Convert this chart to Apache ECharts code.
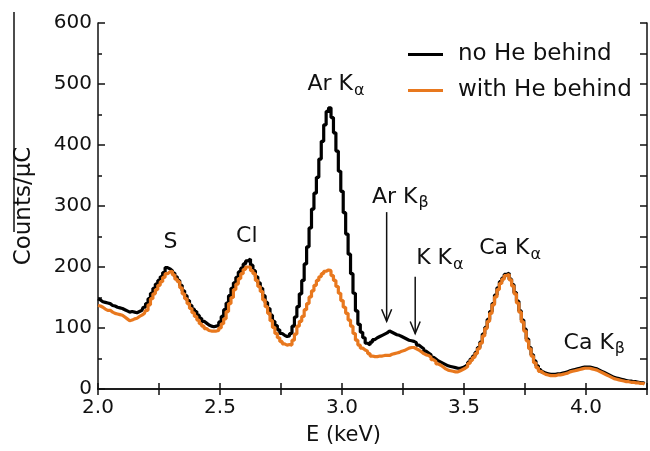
<!DOCTYPE html>
<html>
<head>
<meta charset="utf-8">
<script src="https://cdn.jsdelivr.net/npm/echarts@6/dist/echarts.min.js"></script>
<style>
  html, body { margin: 0; padding: 0; background: #fff; }
  #main { width: 650px; height: 451px; }
</style>
</head>
<body>
<div id="main"></div>
<script>
  // bin centres (keV)
  var energy = [
    2.00,2.01,2.02,2.03,2.04,2.05,2.06,2.07,2.08,2.09,
    2.10,2.11,2.12,2.13,2.14,2.15,2.16,2.17,2.18,2.19,
    2.20,2.21,2.22,2.23,2.24,2.25,2.26,2.27,2.28,2.29,
    2.30,2.31,2.32,2.33,2.34,2.35,2.36,2.37,2.38,2.39,
    2.40,2.41,2.42,2.43,2.44,2.45,2.46,2.47,2.48,2.49,
    2.50,2.51,2.52,2.53,2.54,2.55,2.56,2.57,2.58,2.59,
    2.60,2.61,2.62,2.63,2.64,2.65,2.66,2.67,2.68,2.69,
    2.70,2.71,2.72,2.73,2.74,2.75,2.76,2.77,2.78,2.79,
    2.80,2.81,2.82,2.83,2.84,2.85,2.86,2.87,2.88,2.89,
    2.90,2.91,2.92,2.93,2.94,2.95,2.96,2.97,2.98,2.99,
    3.00,3.01,3.02,3.03,3.04,3.05,3.06,3.07,3.08,3.09,
    3.10,3.11,3.12,3.13,3.14,3.15,3.16,3.17,3.18,3.19,
    3.20,3.21,3.22,3.23,3.24,3.25,3.26,3.27,3.28,3.29,
    3.30,3.31,3.32,3.33,3.34,3.35,3.36,3.37,3.38,3.39,
    3.40,3.41,3.42,3.43,3.44,3.45,3.46,3.47,3.48,3.49,
    3.50,3.51,3.52,3.53,3.54,3.55,3.56,3.57,3.58,3.59,
    3.60,3.61,3.62,3.63,3.64,3.65,3.66,3.67,3.68,3.69,
    3.70,3.71,3.72,3.73,3.74,3.75,3.76,3.77,3.78,3.79,
    3.80,3.81,3.82,3.83,3.84,3.85,3.86,3.87,3.88,3.89,
    3.90,3.91,3.92,3.93,3.94,3.95,3.96,3.97,3.98,3.99,
    4.00,4.01,4.02,4.03,4.04,4.05,4.06,4.07,4.08,4.09,
    4.10,4.11,4.12,4.13,4.14,4.15,4.16,4.17,4.18,4.19,
    4.20,4.21,4.22,4.23,4.24];

  // counts per uC, no He behind
  var noHe = [
    148,146,143,142,141,140,137,136,134,133,
    132,130,128,126,127,126,125,127,129,134,
    140,148,157,165,172,178,184,191,199,197,
    194,190,184,178,170,161,153,145,137,131,
    127,121,116,111,108,105,103,102,103,104,
    110,119,130,141,153,165,174,183,192,198,
    205,210,213,203,194,184,174,165,153,142,
    132,121,111,104,97,91,88,86,87,91,
    103,118,135,156,178,205,233,264,295,321,
    347,377,406,433,455,461,445,420,390,357,
    324,289,254,221,189,157,128,106,93,84,
    75,72,77,81,84,86,88,90,92,95,
    93,91,89,88,86,84,82,80,79,78,
    76,72,69,66,62,59,56,52,49,46,
    44,42,40,38,37,36,35,34,34,35,
    37,40,44,49,54,60,68,77,90,101,
    114,127,140,154,166,176,182,188,190,180,
    171,158,144,128,113,98,82,68,56,46,
    38,32,28,26,25,24,24,24,25,25,
    26,27,28,30,31,32,33,34,35,36,
    36,36,35,34,33,31,29,27,25,23,
    21,19,18,17,16,15,14,13,13,12,
    12,11,10,10,9];

  // counts per uC, with He behind
  var withHe = [
    137,136,134,131,129,129,126,124,123,122,
    121,118,115,112,113,115,116,119,121,124,
    129,138,148,156,163,170,176,183,189,192,
    193,187,180,176,166,156,148,140,132,125,
    119,113,107,103,99,96,95,95,95,96,
    100,107,115,127,140,150,163,172,181,189,
    196,200,200,194,189,178,168,160,146,135,
    124,112,101,91,84,78,74,72,73,72,
    80,90,103,111,119,130,140,151,161,170,
    178,184,189,193,195,194,186,178,168,157,
    145,134,124,113,103,91,80,72,67,64,
    62,58,54,53,53,54,54,55,55,55,
    57,58,59,60,62,63,65,67,68,68,
    66,64,61,58,56,55,52,48,45,41,
    39,36,33,31,30,29,28,28,30,32,
    34,37,42,47,52,58,66,75,87,99,
    111,124,138,151,163,173,180,186,188,179,
    169,156,141,126,110,95,79,66,54,43,
    35,29,26,24,23,22,22,22,23,23,
    24,25,26,28,29,30,31,32,33,34,
    34,34,33,32,31,29,27,25,23,21,
    19,17,16,15,14,13,12,12,11,11,
    10,10,9,9,8];

  var seriesNames = ['no He behind', 'with He behind'];

  // peak labels: [main text, subscript, E at junction, counts at text centre]
  var peakLabels = [
    ['S', '', 2.297, 241],
    ['Cl', '', 2.610, 251],
    ['Ar K', 'α', 3.045, 499],
    ['Ar K', 'β', 3.309, 315],
    ['K K', 'α', 3.451, 214],
    ['Ca K', 'α', 3.768, 230],
    ['Ca K', 'β', 4.114, 75]
  ];
  // arrows: [E, counts at tail, counts at tip]
  var arrows = [
    [3.183, 290, 111],
    [3.300, 184, 91]
  ];

  var font = 'DejaVu Sans';

  function pairs(ys) {
    return energy.map(function (e, i) { return [e, ys[i]]; });
  }

  var chart = echarts.init(document.getElementById('main'));

  var option = {
    animation: false,
    backgroundColor: '#fff',
    grid: { left: 98, top: 23, bottom: 60, right: -2 },
    legend: {
      data: seriesNames,
      orient: 'vertical',
      left: 408,
      top: 43,
      padding: 0,
      itemGap: 13,
      itemWidth: 35,
      itemHeight: 3,
      icon: 'rect',
      textStyle: { fontFamily: font, fontSize: 23, color: '#111', padding: [0, 0, 0, 10] }
    },
    xAxis: [
      {
        type: 'value', min: 2.0, max: 4.25, interval: 0.25,
        name: 'E (keV)', nameLocation: 'middle', nameGap: 36,
        nameTextStyle: { fontFamily: font, fontSize: 21, color: '#111', padding: [0, 58, 0, 0] },
        axisLine: { lineStyle: { color: '#111', width: 1.5 } },
        axisTick: { inside: true, length: 6, lineStyle: { color: '#111', width: 1.5 } },
        axisLabel: {
          fontFamily: font, fontSize: 20, color: '#111', margin: 9,
          formatter: function (v) { return Math.round(v * 100) % 50 === 0 ? v.toFixed(1) : ''; }
        },
        splitLine: { show: false }
      },
      {
        type: 'value', position: 'top', min: 2.0, max: 4.25, interval: 0.25,
        axisLine: { lineStyle: { color: '#111', width: 1.5 } },
        axisTick: { inside: true, length: 6, lineStyle: { color: '#111', width: 1.5 } },
        axisLabel: { show: false },
        splitLine: { show: false }
      }
    ],
    yAxis: [
      {
        type: 'value', min: 0, max: 600, interval: 100,
        name: 'Counts/μC', nameLocation: 'middle', nameGap: 62,
        nameTextStyle: { fontFamily: font, fontSize: 23, color: '#111' },
        axisLine: { lineStyle: { color: '#111', width: 1.5 } },
        axisTick: { inside: true, length: 7, lineStyle: { color: '#111', width: 1.5 } },
        minorTick: { show: true, splitNumber: 2, length: 4, lineStyle: { color: '#111', width: 1.5 } },
        axisLabel: { fontFamily: font, fontSize: 20, color: '#111', margin: 6 },
        splitLine: { show: false },
        minorSplitLine: { show: false }
      },
      {
        type: 'value', position: 'right', min: 0, max: 600, interval: 50,
        axisLine: { lineStyle: { color: '#111', width: 1.5 } },
        axisTick: { inside: true, length: 7, lineStyle: { color: '#111', width: 1.5 } },
        axisLabel: { show: false },
        splitLine: { show: false }
      }
    ],
    series: [
      {
        name: seriesNames[0], type: 'line', step: 'middle', symbol: 'none',
        color: '#000', lineStyle: { color: '#000', width: 3.2 },
        data: pairs(noHe)
      },
      {
        name: seriesNames[1], type: 'line', step: 'middle', symbol: 'none',
        color: '#e8781e', lineStyle: { color: '#e8781e', width: 3.2 },
        data: pairs(withHe)
      }
    ]
  };

  chart.setOption(option);

  // annotations placed through the axes
  var graphics = [];
  peakLabels.forEach(function (p) {
    var pt = chart.convertToPixel({ gridIndex: 0 }, [p[2], p[3]]);
    if (p[1] === '') {
      graphics.push({
        type: 'text', x: pt[0], y: pt[1],
        style: { text: p[0], font: '22px "' + font + '"', fill: '#111', align: 'center', verticalAlign: 'middle' }
      });
    } else {
      graphics.push({
        type: 'text', x: pt[0], y: pt[1],
        style: { text: p[0], font: '22px "' + font + '"', fill: '#111', align: 'right', verticalAlign: 'middle' }
      });
      graphics.push({
        type: 'text', x: pt[0] + 1, y: pt[1] + 6,
        style: { text: p[1], font: '16px "' + font + '"', fill: '#111', align: 'left', verticalAlign: 'middle' }
      });
    }
  });
  arrows.forEach(function (a) {
    var tail = chart.convertToPixel({ gridIndex: 0 }, [a[0], a[1]]);
    var tip = chart.convertToPixel({ gridIndex: 0 }, [a[0], a[2]]);
    graphics.push({
      type: 'line',
      shape: { x1: tail[0], y1: tail[1], x2: tip[0], y2: tip[1] },
      style: { stroke: '#111', lineWidth: 1.5 }
    });
    graphics.push({
      type: 'polyline',
      shape: { points: [[tip[0] - 5, tip[1] - 12], [tip[0], tip[1]], [tip[0] + 5, tip[1] - 12]] },
      style: { stroke: '#111', lineWidth: 1.5, fill: null }
    });
  });
  // stray rule left of the y title in the source figure
  graphics.push({
    type: 'line',
    shape: { x1: 14, y1: 12, x2: 14, y2: 232 },
    style: { stroke: '#111', lineWidth: 1.5 }
  });

  chart.setOption({ graphic: graphics });
  window.addEventListener('resize', function () { chart.resize(); });
</script>
</body>
</html>
